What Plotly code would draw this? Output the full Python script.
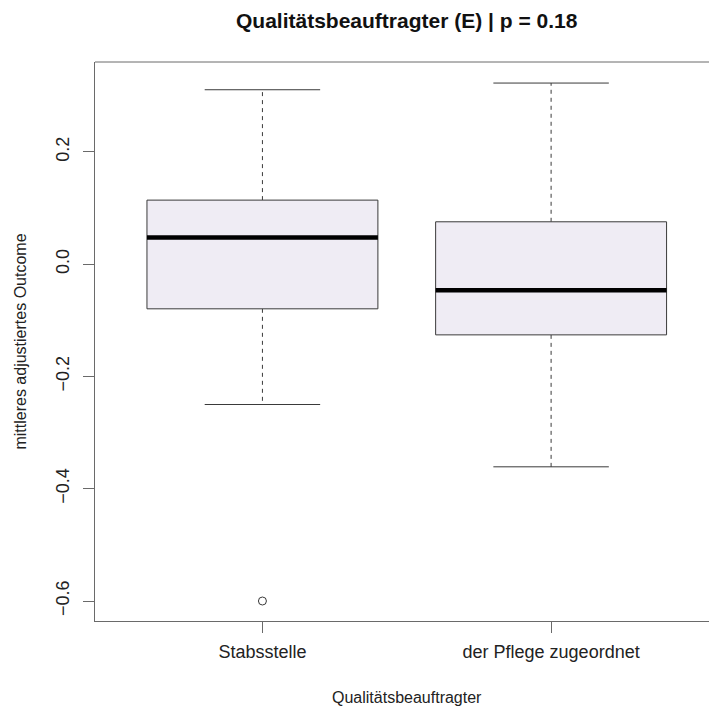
import plotly.graph_objects as go

# ---- data ----
categories = ["Stabsstelle", "der Pflege zugeordnet"]
lower_whisker = [-0.250, -0.361]
q1 = [-0.0796, -0.126]
median = [0.0474, -0.0463]
q3 = [0.114, 0.0754]
upper_whisker = [0.3106, 0.3225]
outliers = [[-0.600], []]
y_ticks = [-0.6, -0.4, -0.2, 0.0, 0.2]

title_text = "Qualitätsbeauftragter (E) | p = 0.18"
x_title = "Qualitätsbeauftragter"
y_title = "mittleres adjustiertes Outcome"

# ---- style ----
FONT = "Liberation Sans, Arial, Helvetica, sans-serif"
BOX_FILL = "#EFECF4"
LINE = "#3a3a3a"
AXIS = "#6a6a6a"
HALF_BOX = 0.4
HALF_CAP = 0.2

fig = go.Figure()

for i, cat in enumerate(categories):
    xc = i + 1
    # whiskers (dashed)
    fig.add_trace(go.Scatter(
        x=[xc, xc], y=[q3[i], upper_whisker[i]], mode="lines",
        line=dict(color=LINE, width=1, dash="4px,4px"), showlegend=False, hoverinfo="skip"))
    fig.add_trace(go.Scatter(
        x=[xc, xc], y=[q1[i], lower_whisker[i]], mode="lines",
        line=dict(color=LINE, width=1, dash="4px,4px"), showlegend=False, hoverinfo="skip"))
    # caps
    for w in (upper_whisker[i], lower_whisker[i]):
        fig.add_trace(go.Scatter(
            x=[xc - HALF_CAP, xc + HALF_CAP], y=[w, w], mode="lines",
            line=dict(color=LINE, width=1), showlegend=False, hoverinfo="skip"))
    # box
    fig.add_trace(go.Scatter(
        x=[xc - HALF_BOX, xc + HALF_BOX, xc + HALF_BOX, xc - HALF_BOX, xc - HALF_BOX],
        y=[q1[i], q1[i], q3[i], q3[i], q1[i]],
        mode="lines", fill="toself", fillcolor=BOX_FILL,
        line=dict(color=LINE, width=1), showlegend=False, hoverinfo="skip"))
    # median
    fig.add_trace(go.Scatter(
        x=[xc - HALF_BOX, xc + HALF_BOX], y=[median[i], median[i]], mode="lines",
        line=dict(color="black", width=4.5), showlegend=False, hoverinfo="skip"))
    # outliers
    if outliers[i]:
        fig.add_trace(go.Scatter(
            x=[xc] * len(outliers[i]), y=outliers[i], mode="markers",
            marker=dict(symbol="circle-open", size=8, color=LINE, line=dict(width=1)),
            showlegend=False, hoverinfo="skip"))

fig.update_layout(
    width=709, height=710,
    margin=dict(l=95, r=0, t=62, b=89),
    paper_bgcolor="white", plot_bgcolor="white",
    font=dict(family=FONT, color="#222222"),
    xaxis=dict(
        range=[0.42, 2.547], tickvals=[1, 2], ticktext=categories,
        showgrid=False, zeroline=False, showline=True, linecolor=AXIS, linewidth=1,
        ticks="outside", ticklen=11, tickcolor=AXIS, tickwidth=1, ticklabelstandoff=3,
        tickfont=dict(size=18, family=FONT, color="#222222")),
    yaxis=dict(
        range=[-0.6356, 0.360], tickvals=y_ticks, tickformat=".1f",
        showgrid=False, zeroline=False, showline=True, linecolor=AXIS, linewidth=1,
        ticks="outside", ticklen=11, tickcolor=AXIS, tickwidth=1, tickangle=-90,
        ticklabelstandoff=7,
        tickfont=dict(size=18, family=FONT, color="#222222")),
    shapes=[dict(type="line", xref="paper", yref="paper", x0=0, x1=1, y0=1, y1=1,
                 line=dict(color=AXIS, width=1))],
    annotations=[
        dict(text="<b>" + title_text + "</b>", xref="paper", yref="paper",
             x=0.5078, y=1.0751, xanchor="center", yanchor="middle", showarrow=False,
             font=dict(size=21, family=FONT, color="#111111")),
        dict(text=x_title, xref="paper", yref="paper", x=0.5078, y=-0.136,
             xanchor="center", yanchor="middle", showarrow=False,
             font=dict(size=16, family=FONT, color="#222222")),
        dict(text=y_title, xref="paper", yref="paper", x=-0.1221, y=0.5,
             xanchor="center", yanchor="middle", showarrow=False, textangle=-90,
             font=dict(size=16, family=FONT, color="#222222")),
    ],
)

fig.write_html(
    "out.html",
    config={"displayModeBar": False},
    post_script="document.body.style.margin='0';document.body.style.overflow='hidden';",
)
